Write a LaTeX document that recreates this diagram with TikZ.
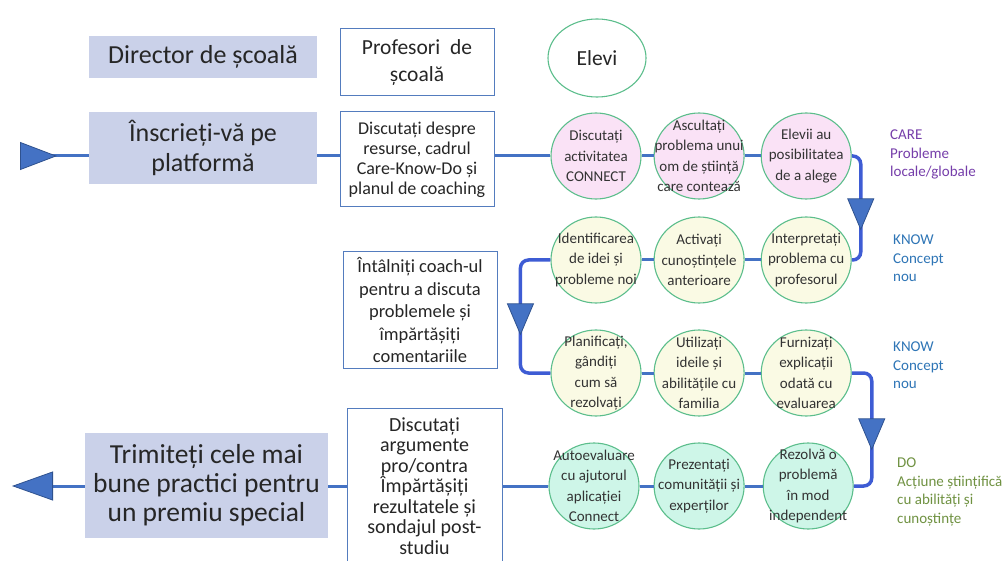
\documentclass[tikz,border=0pt]{standalone}
\usepackage{fontspec}
\setmainfont{Carlito}
\usepackage{xcolor}
\usetikzlibrary{arrows.meta,positioning,shapes.geometric,decorations.markings}

\definecolor{rolefill}{RGB}{202,209,233}
\definecolor{noteedge}{RGB}{84,124,190}
\definecolor{stageedge}{RGB}{92,190,140}
\definecolor{carefill}{RGB}{250,226,246}
\definecolor{knowfill}{RGB}{250,250,228}
\definecolor{dofill}{RGB}{206,246,232}
\definecolor{flowblue}{RGB}{68,114,196}
\definecolor{turnblue}{RGB}{62,92,212}
\definecolor{tipfill}{RGB}{68,114,196}
\definecolor{tipedge}{RGB}{47,82,143}
\definecolor{carecol}{RGB}{118,62,170}
\definecolor{knowcol}{RGB}{46,117,182}
\definecolor{docol}{RGB}{112,146,66}

\tikzset{
    flowtip/.tip={Triangle[length=32pt, width=27pt, fill=tipfill, color=tipedge,
                  line width=0.8pt]},
    bigtip/.tip={Triangle[length=37pt, width=28pt, fill=tipfill, color=tipedge,
                 line width=0.8pt]},
    endtip/.tip={Triangle[length=41pt, width=29pt, fill=tipfill, color=tipedge,
                 line width=0.8pt]},
}

\begin{document}
\begin{tikzpicture}[
    x=1pt, y=-1pt,
    node distance=12pt,
    every node/.style={text=black!85},
    role/.style={fill=rolefill, align=center, inner sep=0pt,
                 font=\fontsize{26}{30}\selectfont},
    note/.style={draw=noteedge, fill=white, align=center, inner sep=0pt,
                 line width=1pt},
    stage/.style={ellipse, draw=stageedge, line width=1.1pt, inner sep=0pt,
                  minimum width=90pt, minimum height=86pt},
    stagetext/.style={align=center, inner sep=0pt, text=black!80,
                      font=\fontsize{15}{20.5}\selectfont},
    phase/.style={anchor=north west, align=left, inner sep=0pt,
                  font=\fontsize{15}{18.5}\selectfont},
    flow/.style={draw=flowblue, line width=3pt},
    uturn/.style={draw=turnblue, line width=3.5pt, rounded corners=8pt},
    tipat/.style 2 args={postaction={decorate, decoration={markings,
                  mark=at position #1 with {\arrow{#2}}}}},
]
\path[use as bounding box, fill=white] (0,0) rectangle (1006,561);

% Headers
\node[role, minimum width=228pt, minimum height=42pt] (director) at (203,57)
      {Director de școală};
\node[note, minimum width=154pt, minimum height=67pt,
      font=\fontsize{21.5}{27}\selectfont] (teachers) at (417,62.5)
      {Profesori\ \ de\\școală};
\node[stage, fill=white, minimum width=98pt, minimum height=78pt,
      font=\fontsize{21.5}{26}\selectfont] (students) at (597,58) {Elevi};

% Left column
\node[role, minimum width=228pt, minimum height=72pt] (enroll) at (203,148)
      {Înscrieți-vă pe\\platformă};
\node[role, minimum width=243pt, minimum height=105pt,
      font=\fontsize{27.5}{29}\selectfont] (award) at (206.5,485.5)
      {Trimiteți cele mai\\bune practici pentru\\un premiu special};

% Teacher boxes
\node[note, minimum width=154pt, minimum height=95pt,
      font=\fontsize{18}{20}\selectfont] (discuss) at (417,159.5)
      {Discutați despre\\resurse, cadrul\\Care-Know-Do și\\planul de coaching};
\node[note, minimum width=154pt, minimum height=116pt,
      font=\fontsize{18.5}{22.5}\selectfont] (coach) at (420,310)
      {Întâlniți coach-ul\\pentru a discuta\\problemele și\\împărtășiți\\comentariile};
\node[note, minimum width=155pt, minimum height=156pt,
      font=\fontsize{20}{20.5}\selectfont] (argue) at (424.5,486)
      {Discutați\\argumente\\pro/contra\\Împărtășiți\\rezultatele și\\sondajul post-\\studiu};

% Student stages, row by row
\node[stage, fill=carefill] (talk) at (596,156) {};
\node[stage, fill=carefill] (listen) [right=12pt of talk] {};
\node[stage, fill=carefill] (choose) [right=16pt of listen] {};
\node[stage, fill=knowfill] (identify) at (596,260) {};
\node[stage, fill=knowfill] (activate) [right=12pt of identify] {};
\node[stage, fill=knowfill] (interpret) [right=16pt of activate] {};
\node[stage, fill=knowfill] (plan) at (596,373) {};
\node[stage, fill=knowfill] (use) [right=12pt of plan] {};
\node[stage, fill=knowfill] (explain) [right=16pt of use] {};
\node[stage, fill=dofill] (selfeval) at (594,486) {};
\node[stage, fill=dofill] (present) [right=14pt of selfeval] {};
\node[stage, fill=dofill] (solve) [right=18pt of present] {};

\node[stagetext] (talk-t) at (talk) {Discutați\\activitatea\\CONNECT};
\node[stagetext] (listen-t) at (listen) {Ascultați\\problema unui\\om de știință\\care contează};
\node[stagetext] (choose-t) at (choose) {Elevii au\\posibilitatea\\de a alege};
\node[stagetext] (identify-t) at (identify) {Identificarea\\de idei și\\probleme noi};
\node[stagetext] (activate-t) at (activate) {Activați\\cunoștințele\\anterioare};
\node[stagetext] (interpret-t) at (interpret) {Interpretați\\problema cu\\profesorul};
\node[stagetext] (plan-t) at (plan) {Planificați,\\gândiți\\cum să\\rezolvați};
\node[stagetext] (use-t) at (use) {Utilizați\\ideile și\\abilitățile cu\\familia};
\node[stagetext] (explain-t) at (explain) {Furnizați\\explicații\\odată cu\\evaluarea};
\node[stagetext] (selfeval-t) at (selfeval) {Autoevaluare\\cu ajutorul\\aplicației\\Connect};
\node[stagetext] (present-t) at (present) {Prezentați\\comunității și\\experților};
\node[stagetext] (solve-t) at (solve) {Rezolvă o\\problemă\\în mod\\independent};

% Phase labels
\node[phase, text=carecol] (care) at (890,130) {CARE\\Probleme\\locale/globale};
\node[phase, text=knowcol] (know) at (893,235) {KNOW\\Concept\\nou};
\node[phase, text=knowcol] (knowmore) at (893,342) {KNOW\\Concept\\nou};
\node[phase, text=docol] (do) at (897,458) {DO\\Acțiune științifică\\cu abilități și\\cunoștințe};

\coordinate (start) at (20,156);
\coordinate (finish) at (12,486);

% Top row
\draw[flow, tipat={37pt}{bigtip}] (start) -- (enroll.west |- talk);
\draw[flow] (enroll.east |- talk) -- (discuss.west |- talk);
\draw[flow] (discuss.east |- talk) -- (talk.west);
\draw[flow] (talk) -- (listen);
\draw[flow] (listen) -- (choose);
\draw[uturn, tipat={80pt}{flowtip}] (choose.east) -| ([xshift=9pt]interpret.east) -- (interpret.east);

% Second and third rows
\draw[flow] (interpret) -- (activate);
\draw[flow] (activate) -- (identify);
\draw[uturn, tipat={102pt}{flowtip}] (identify.west) -| ([xshift=-30pt]plan.west) -- (plan.west);
\draw[flow] (plan) -- (use);
\draw[flow] (use) -- (explain);
\draw[uturn, tipat={94pt}{flowtip}] (explain.east) -| ([xshift=18pt]solve.east) -- (solve.east);

% Bottom row
\draw[flow] (solve) -- (present);
\draw[flow] (present) -- (selfeval);
\draw[flow] (selfeval.west) -- (argue.east |- selfeval);
\draw[flow] (argue.west |- selfeval) -- (award.east |- selfeval);
\draw[flow, -endtip] (award.west |- selfeval) -- (finish);
\end{tikzpicture}
\end{document}
